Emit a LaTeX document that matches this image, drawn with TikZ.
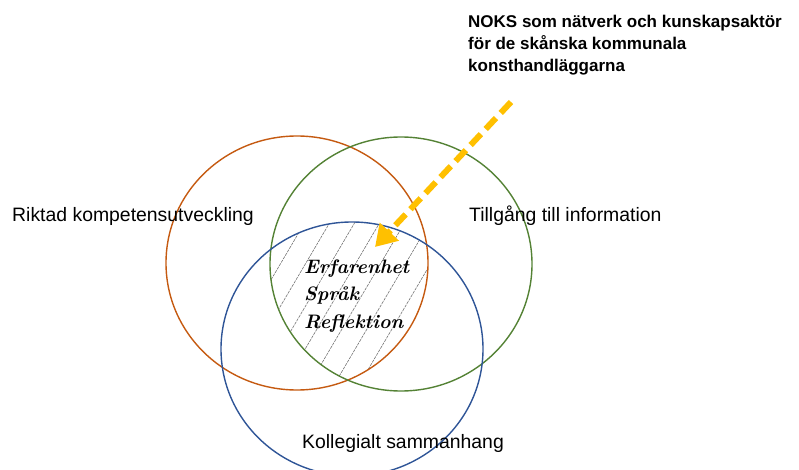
\documentclass[tikz,border=0pt]{standalone}
\usepackage{fontspec}
\newfontfamily\arial{Liberation Sans}
\usetikzlibrary{arrows.meta}
\definecolor{corange}{HTML}{C55A11}
\definecolor{cgreen}{HTML}{548235}
\definecolor{cblue}{HTML}{2F5597}
\definecolor{cyellow}{HTML}{FFC000}
\tikzset{
  ring/.style={line width=1.4pt},
  label/.style={font=\arial\fontsize{19.4}{23}\selectfont, anchor=base west, inner sep=0pt},
  title/.style={font=\arial\bfseries\fontsize{17}{22}\selectfont, anchor=base west, inner sep=0pt, align=left},
  core/.style={font=\rmfamily\bfseries\itshape\fontsize{19.5}{27.5}\selectfont, anchor=base west, inner sep=0pt, align=left},
  hatch/.style={black!55, line width=0.6pt, dash pattern=on 3pt off 1pt},
  pointer/.style={cyellow, line width=6pt, dash pattern=on 15pt off 7pt, -{Triangle[length=21pt,width=25pt]}}
}
\begin{document}
\begin{tikzpicture}[x=1pt,y=-1pt]
\useasboundingbox (0,0) rectangle (799,470);
% hatch in the common area
\begin{scope}
  \clip (297,263) ellipse [x radius=131pt, y radius=127pt];
  \clip (401,264) ellipse [x radius=131pt, y radius=127pt];
  \clip (352,349) ellipse [x radius=131pt, y radius=127pt];
  \foreach \k in {-4,...,8} {
    \draw[hatch] ({256+25*\k},390) -- ({256+25*\k+0.59*190},200);
  }
\end{scope}
% circles
\draw[ring, corange] (297,263) ellipse [x radius=131pt, y radius=127pt];
\draw[ring, cgreen] (401,264) ellipse [x radius=131pt, y radius=127pt];
\draw[ring, cblue] (352,349) ellipse [x radius=131pt, y radius=127pt];
% labels
\node[label] (riktad) at (12,222) {Riktad kompetensutveckling};
\node[label] (tillgang) at (469,222) {Tillgång till information};
\node[label] (kollegialt) at (302,448) {Kollegialt sammanhang};
\node[title] (noks) at (468,72) {NOKS som nätverk och kunskapsaktör\\för de skånska kommunala\\konsthandläggarna};
\node[core] (center) at (304,328) {Erfarenhet\\Språk\\Reflektion};
% arrow
\coordinate (arrowstart) at (511,102);
\coordinate (arrowtip) at (375,247);
\draw[pointer] (arrowstart) -- (arrowtip);
\end{tikzpicture}
\end{document}
